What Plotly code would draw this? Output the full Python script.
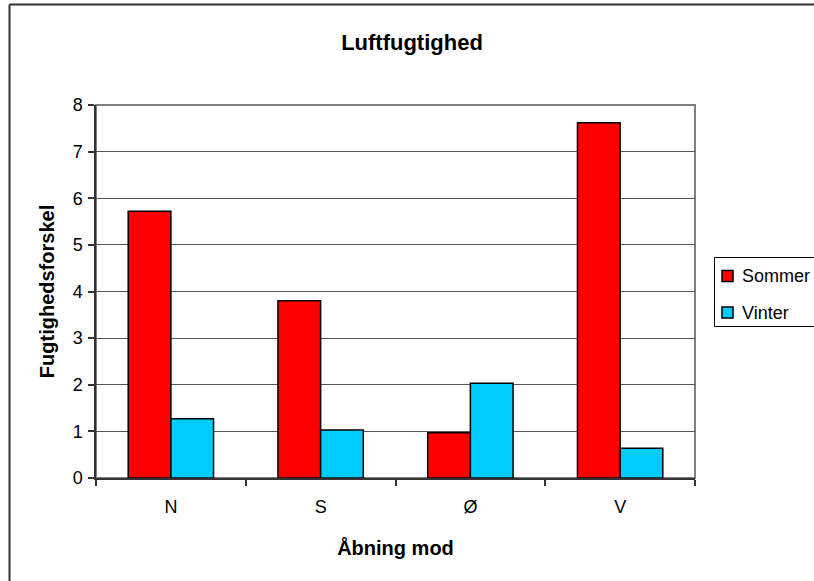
import plotly.graph_objects as go

categories = ["N", "S", "Ø", "V"]
sommer = [5.72, 3.80, 0.97, 7.62]
vinter = [1.27, 1.03, 2.03, 0.64]
y_ticks = [0, 1, 2, 3, 4, 5, 6, 7, 8]
series_names = ["Sommer", "Vinter"]
series_colors = ["#FF0000", "#00CCFF"]

FONT = "Liberation Sans, Arial, sans-serif"

fig = go.Figure()
for name, vals, col in zip(series_names, [sommer, vinter], series_colors):
    fig.add_trace(go.Bar(name=name, x=categories, y=vals, showlegend=False,
                         marker=dict(color=col, line=dict(color="#000000", width=1.5))))

L, R, T, B = 96, 695, 105, 478
W, H = 814, 581

def px_x(p):
    return (p - L) / (R - L)

def px_y(p):
    return (B - p) / (B - T)

shapes = [
    dict(type="rect", xref="paper", yref="paper", x0=0, x1=1, y0=0, y1=1,
         line=dict(color="#808080", width=2), layer="below"),
    dict(type="line", xref="paper", yref="paper",
         x0=px_x(9.5), x1=px_x(9.5), y0=px_y(4.5), y1=px_y(H + 5),
         line=dict(color="#333333", width=2)),
    dict(type="line", xref="paper", yref="paper",
         x0=px_x(9.5), x1=px_x(W + 5), y0=px_y(4.5), y1=px_y(4.5),
         line=dict(color="#333333", width=2)),
    # legend box
    dict(type="rect", xref="paper", yref="paper",
         x0=px_x(714.5), x1=px_x(W + 10), y0=px_y(326.5), y1=px_y(257.5),
         line=dict(color="#000000", width=1), fillcolor="white"),
]
annotations = []
legend_rows = [276, 312.5]
for name, col, yc in zip(series_names, series_colors, legend_rows):
    shapes.append(dict(type="rect", xref="paper", yref="paper",
                       x0=px_x(722), x1=px_x(733), y0=px_y(yc + 5.5), y1=px_y(yc - 5.5),
                       line=dict(color="#000000", width=1.5), fillcolor=col))
    annotations.append(dict(xref="paper", yref="paper", x=px_x(740), y=px_y(yc),
                            xanchor="left", yanchor="middle", showarrow=False,
                            text=name, font=dict(size=18, family=FONT, color="black")))

fig.update_layout(
    width=W, height=H,
    margin=dict(l=L, r=W - R, t=T, b=H - B, autoexpand=False),
    paper_bgcolor="white", plot_bgcolor="white",
    barmode="group", bargap=0.43, bargroupgap=0,
    font=dict(family=FONT, color="black", size=17),
    title=dict(text="<b>Luftfugtighed</b>", x=412 / W, xanchor="center",
               y=1 - 42 / H, yanchor="middle", font=dict(size=22, family=FONT)),
    xaxis=dict(
        showline=True, linecolor="#333333", linewidth=1.5,
        ticks="outside", ticklen=6, tickcolor="#333333", tickwidth=1.5,
        tickson="boundaries", showgrid=False,
        tickfont=dict(size=18), ticklabelstandoff=12,
        title=dict(text="<b>Åbning mod</b>", font=dict(size=20), standoff=25),
    ),
    yaxis=dict(
        range=[0, 8], tickvals=y_ticks, showline=True, linecolor="#333333", linewidth=1.5,
        ticks="outside", ticklen=6, tickcolor="#333333", tickwidth=1.5,
        showgrid=True, gridcolor="#555555", gridwidth=1, zeroline=False,
        tickfont=dict(size=18), ticklabelstandoff=2,
        title=dict(text="<b>Fugtighedsforskel</b>", font=dict(size=20), standoff=13),
    ),
    shapes=shapes,
    annotations=annotations,
)

fig.write_html("out.html", config={"displayModeBar": False},
               post_script="document.body.style.margin='0';")
